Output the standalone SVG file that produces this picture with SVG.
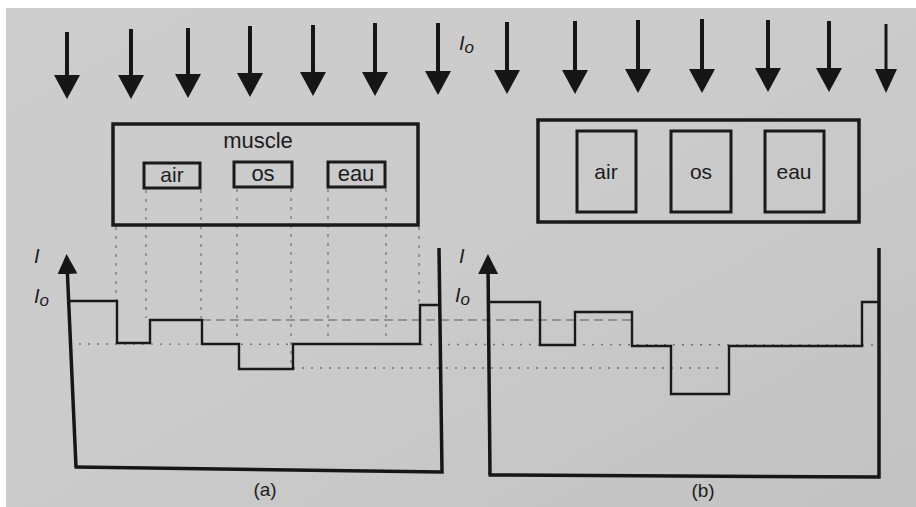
<svg xmlns="http://www.w3.org/2000/svg" width="916" height="507" viewBox="0 0 916 507">
<defs>
<linearGradient id="bg" x1="0" y1="0" x2="1" y2="1">
<stop offset="0" stop-color="#cdcdcd"/>
<stop offset="0.5" stop-color="#cbcbcb"/>
<stop offset="1" stop-color="#c2c2c2"/>
</linearGradient>
<marker id="ah" viewBox="0 0 24 26" markerWidth="24" markerHeight="26" refX="1" refY="13" orient="auto" markerUnits="userSpaceOnUse">
<path d="M0,0 L24,13 L0,26 Z" fill="#161616"/>
</marker>
<marker id="ahs" viewBox="0 0 24 22" markerWidth="24" markerHeight="22" refX="1" refY="11" orient="auto" markerUnits="userSpaceOnUse">
<path d="M0,0 L24,11 L0,22 Z" fill="#161616"/>
</marker>
<marker id="axh" viewBox="0 0 20 20" markerWidth="20" markerHeight="20" refX="1" refY="10" orient="auto" markerUnits="userSpaceOnUse">
<path d="M0,0 L20,10 L0,20 Z" fill="#161616"/>
</marker>
</defs>
<style>
.ray{stroke:#161616;stroke-width:4;fill:none;marker-end:url(#ah)}
.box{fill:none;stroke:#1a1a1a;stroke-width:3.5}
.sbox{fill:none;stroke:#1a1a1a;stroke-width:3}
.lbl{font-family:"Liberation Sans",Arial,sans-serif;fill:#1c1c1c;text-anchor:middle}
.ital{font-family:"Liberation Sans",Arial,sans-serif;font-style:italic;fill:#1c1c1c}
.axis{fill:none;stroke:#161616;stroke-width:3.5}
.step{fill:none;stroke:#1a1a1a;stroke-width:2.4}
.vdot{stroke:#707070;stroke-width:1.2;stroke-dasharray:3 6;fill:none}
.hdot{stroke:#707070;stroke-width:1.4;stroke-dasharray:2 7;fill:none}
.hdash{stroke:#5a5a5a;stroke-width:1.2;stroke-dasharray:9 5;fill:none}
</style>
<rect width="916" height="507" fill="#ffffff"/>
<rect x="6" y="8" width="910" height="499" fill="url(#bg)"/>

<g id="connectors">
<g id="rays-a">
<line class="ray" x1="67" y1="32" x2="67" y2="76"/>
<line class="ray" x1="131" y1="29" x2="131" y2="76"/>
<line class="ray" x1="188" y1="28" x2="188" y2="75"/>
<line class="ray" x1="250" y1="26" x2="250" y2="74"/>
<line class="ray" x1="313" y1="25" x2="313" y2="73"/>
<line class="ray" x1="375" y1="23" x2="375" y2="73"/>
<line class="ray" x1="438" y1="23" x2="438" y2="72"/>
</g>
<g id="rays-b">
<line class="ray" x1="507" y1="22" x2="507" y2="71"/>
<line class="ray" x1="575" y1="21" x2="575" y2="71"/>
<line class="ray" x1="638" y1="20" x2="638" y2="70"/>
<line class="ray" x1="702" y1="19" x2="702" y2="70"/>
<line class="ray" x1="768" y1="20" x2="768" y2="69"/>
<line class="ray" x1="829" y1="21" x2="829" y2="69"/>
<line x1="886" y1="24" x2="886" y2="70" stroke="#161616" stroke-width="3" marker-end="url(#ahs)"/>
</g>
<g id="projections-a">
<line class="vdot" x1="116" y1="227" x2="116" y2="300"/>
<line class="vdot" x1="146" y1="190" x2="146" y2="318"/>
<line class="vdot" x1="201" y1="190" x2="201" y2="318"/>
<line class="vdot" x1="237" y1="189" x2="237" y2="342"/>
<line class="vdot" x1="291" y1="189" x2="291" y2="367"/>
<line class="vdot" x1="328" y1="189" x2="328" y2="342"/>
<line class="vdot" x1="386" y1="189" x2="386" y2="342"/>
<line class="vdot" x1="419" y1="227" x2="419" y2="303"/>
</g>
<g id="levels">
<line class="hdash" x1="202" y1="320" x2="632" y2="320"/>
<line class="hdot" x1="70" y1="344" x2="873" y2="345"/>
<line class="hdot" x1="293" y1="368" x2="723" y2="368"/>
</g>
</g>

<g id="panel-a-object">
<rect class="box" x="113" y="124" width="305" height="101"/>
<text class="lbl" x="258" y="148" font-size="22">muscle</text>
<g id="a-air">
<rect class="sbox" x="144" y="163" width="56" height="25"/>
<text class="lbl" x="172" y="182" font-size="21">air</text>
</g>
<g id="a-os">
<rect class="sbox" x="234" y="162" width="58" height="25"/>
<text class="lbl" x="263" y="181" font-size="22">os</text>
</g>
<g id="a-eau">
<rect class="sbox" x="328" y="162" width="57" height="25"/>
<text class="lbl" x="356" y="181" font-size="22">eau</text>
</g>
</g>

<g id="panel-b-object">
<rect class="box" x="538" y="120" width="321" height="102"/>
<g id="b-air">
<rect class="sbox" x="577" y="131" width="59" height="81"/>
<text class="lbl" x="606" y="179" font-size="21">air</text>
</g>
<g id="b-os">
<rect class="sbox" x="671" y="131" width="60" height="81"/>
<text class="lbl" x="701" y="179" font-size="21">os</text>
</g>
<g id="b-eau">
<rect class="sbox" x="765" y="131" width="59" height="81"/>
<text class="lbl" x="794" y="179" font-size="21">eau</text>
</g>
</g>

<g id="I0-top">
<text class="ital" x="459" y="50" font-size="20">I<tspan font-size="17" dy="3">o</tspan></text>
</g>

<g id="graph-a">
<line x1="76" y1="467" x2="67.4" y2="273" stroke="#161616" stroke-width="3.5" marker-end="url(#axh)"/>
<polyline class="axis" points="74.5,467 442,472 439,248"/>
<polyline class="step" points="67,301 117,301 117,343 150,343 150,320 202,320 202,344 239,344 239,369 293,369 293,344 420,344 420,305 439,305"/>
<text class="ital" x="34" y="263" font-size="20">I</text>
<text class="ital" x="34" y="303" font-size="20">I<tspan font-size="17" dy="3">o</tspan></text>
<text class="lbl" x="265" y="496" font-size="19">(a)</text>
</g>

<g id="graph-b">
<line x1="490" y1="475" x2="488.1" y2="273" stroke="#161616" stroke-width="3.5" marker-end="url(#axh)"/>
<polyline class="axis" points="488.5,475 879,477 879,248"/>
<polyline class="step" points="488,302 540,302 540,345 575,345 575,312 632,312 632,346 671,346 671,394 729,394 729,346 862,346 862,302 879,302"/>
<text class="ital" x="459" y="263" font-size="20">I</text>
<text class="ital" x="455" y="302" font-size="20">I<tspan font-size="17" dy="3">o</tspan></text>
<text class="lbl" x="703" y="497" font-size="19">(b)</text>
</g>
</svg>
